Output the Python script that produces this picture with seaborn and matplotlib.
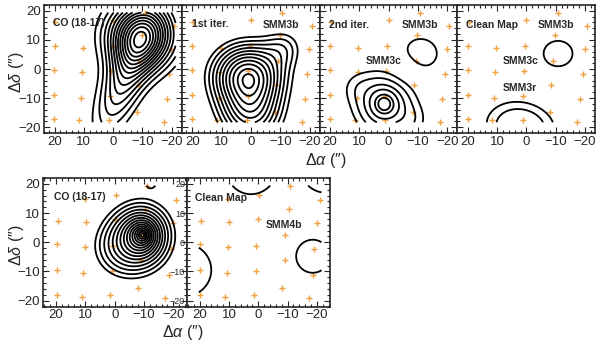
import numpy as np
import matplotlib
matplotlib.use("Agg")
import matplotlib.pyplot as plt
import seaborn as sns
from matplotlib.ticker import MultipleLocator

# spaxel centres (arcsec offsets), top row maps (SMM3) and bottom row maps (SMM4)
top_ra = [19.7, 0.0, -10.7, -20.7,
          20.0, 10.3, 0.4, -9.8, -19.9,
          20.1, 10.6, 0.9, -9.2, -19.2,
          20.1, 10.9, 1.1, -8.5, -18.3,
          20.1, 11.6, 1.3, -8.2, -17.4]
top_dec = [16.3, 16.7, 19.3, 14.8,
           7.8, 7.3, 7.8, 11.8, 6.9,
           -0.3, -1.1, -0.7, 2.8, -1.7,
           -8.9, -10.0, -9.4, -5.6, -10.4,
           -17.1, -17.6, -17.6, -14.9, -18.3]
bot_ra = [10.2, -0.4, -10.9, -21.0,
          19.5, 9.9, 0.0, -10.4, -20.0,
          19.8, 10.2, 0.6, -9.3, -19.2,
          19.8, 10.7, 0.9, -9.0, -18.6,
          19.8, 11.3, 1.5, -8.1, -17.3]
bot_dec = [14.9, 16.3, 19.3, 14.6,
           7.4, 6.8, 7.8, 11.5, 6.6,
           -0.5, -1.5, -1.3, 2.6, -2.2,
           -9.4, -10.5, -9.7, -6.1, -11.1,
           -18.1, -18.6, -18.1, -15.5, -19.2]

# emission components: (amplitude, ra, dec, width_ra, width_dec, angle, shape)
co_smm3 = [(0.8, -9.5, 11.5, 8.0, 8.0, 0, 2),
           (0.42, -4.5, -2.0, 5.0, 15.0, 22.0, 2)]
iter1_smm3 = [(1.0, 1.0, -2.3, 9.0, 8.1, 0, 2),
              (0.55, 0.0, -17.0, 8.0, 7.0, 0, 2),
              (0.25, -12.0, 8.0, 5.0, 5.0, 0, 2)]
iter2_smm3 = [(1.0, 1.5, -12.0, 4.0, 4.2, 0, 1.3),
              (0.1, 11.0, -6.0, 4.0, 4.0, 0, 2),
              (0.125, -8.0, -18.0, 4.0, 4.0, 0, 2),
              (-0.12, -5.0, -1.0, 5.0, 5.0, 0, 2),
              (0.21, -10.8, 5.3, 7.1, 6.4, 0, 2)]
clean_smm3 = [(0.36, -10.8, 5.3, 5.2, 4.6, 0, 2),
              (1.0, 2.0, -20.0, 6.8, 5.0, 11, 2)]
co_smm4 = [(1.0, -9.5, 2.5, 5.0, 5.5, 0, 1),
           (0.2, 0.0, -3.0, 9.0, 9.0, 0, 2),
           (0.21, -12.5, 21.0, 2.2, 2.2, 0, 2)]
clean_smm4 = [(1.0, 25.0, -9.5, 7.6, 7.6, 0, 2),
              (1.0, -18.6, -4.8, 4.8, 4.8, 0, 2),
              (1.0, 2.5, 24.7, 7.0, 7.0, 0, 2),
              (1.0, -23.0, 25.0, 6.8, 6.8, 0, 2)]

lev_co_smm3 = [0.12, 0.19, 0.26, 0.33, 0.40, 0.47, 0.54, 0.61, 0.68, 0.75, 0.82, 0.89, 0.96, 1.03]
lev_iter1 = [0.27, 0.35, 0.43, 0.51, 0.59, 0.67, 0.75, 0.83, 0.91, 0.99, 1.05]
lev_iter2 = [0.155, 0.253, 0.391, 0.53, 0.698, 0.816]
lev_clean3 = [0.23, 0.47]
lev_co_smm4 = [0.34, 0.39, 0.44, 0.49, 0.54, 0.59, 0.64, 0.69, 0.74, 0.79, 0.84, 0.89, 0.94, 0.99, 1.04]
lev_clean4 = [0.5]


def sky(comps, ra, dec):
    z = np.zeros_like(ra)
    for a, x0, y0, sx, sy, ang, b in comps:
        t = np.radians(ang)
        u = (ra - x0) * np.cos(t) + (dec - y0) * np.sin(t)
        v = -(ra - x0) * np.sin(t) + (dec - y0) * np.cos(t)
        r2 = (u / sx) ** 2 + (v / sy) ** 2
        z = z + a * np.exp(-0.5 * r2 ** (b / 2.0))
    return z


sns.set_style("ticks")
plt.rcParams["font.family"] = ["Liberation Sans", "DejaVu Sans"]
plt.rcParams["mathtext.fontset"] = "custom"
plt.rcParams["mathtext.rm"] = "Liberation Sans"
plt.rcParams["mathtext.it"] = "Liberation Sans:italic"

fig = plt.figure(figsize=(6, 3.46), dpi=100)
W, H = 600.0, 346.0


def panel(x0, x1, y0, y1):
    return fig.add_axes([x0 / W, 1 - y1 / H, (x1 - x0) / W, (y1 - y0) / H])


orange = "#f0a040"


def draw(ax, comps, levels, ra_pts, dec_pts, xl, grid_ra):
    g_ra, g_dec = np.meshgrid(np.linspace(grid_ra[0], grid_ra[1], 220),
                              np.linspace(-18.3, 19.4, 220))
    z = sky(comps, g_ra, g_dec)
    sns.scatterplot(x=ra_pts, y=dec_pts, marker="+", s=22, color=orange,
                    linewidth=1.0, ax=ax, zorder=2)
    ax.contour(g_ra, g_dec, z, levels=levels, colors="k", linewidths=1.3, zorder=3)
    ax.set_xlim(xl)
    ax.set_ylim(-22, 22)
    ax.set_xticks([20, 10, 0, -10, -20])
    ax.set_yticks([-20, -10, 0, 10, 20])
    ax.xaxis.set_minor_locator(MultipleLocator(2))
    ax.yaxis.set_minor_locator(MultipleLocator(2))
    ax.tick_params(which="both", direction="in", top=True, right=True,
                   labelsize=9.5, width=0.8, pad=2)
    ax.tick_params(which="major", length=4)
    ax.tick_params(which="minor", length=2)
    for s in ax.spines.values():
        s.set_linewidth(1.2)
    ax.set_xlabel("")
    ax.set_ylabel("")


def label(ax, x, y, txt):
    ax.text(x, y, txt, fontsize=7.5, fontweight="bold", ha="left", va="center", zorder=4)


top_edges = [44, 181.75, 319.5, 457.25, 595]
top_maps = [co_smm3, iter1_smm3, iter2_smm3, clean_smm3]
top_levs = [lev_co_smm3, lev_iter1, lev_iter2, lev_clean3]
axes = []
for i in range(4):
    ax = panel(top_edges[i], top_edges[i + 1], 5, 133)
    draw(ax, top_maps[i], top_levs[i], top_ra, top_dec, (23.6, -23.4), (-21.3, 20.5))
    if i > 0:
        ax.set_yticklabels([])
    axes.append(ax)

label(axes[0], 20.5, 15.7, "CO (18-17)")
label(axes[1], 20.1, 15.4, "1st iter.")
label(axes[1], -4.0, 15.0, "SMM3b")
label(axes[2], 20.5, 15.0, "2nd iter.")
label(axes[2], -4.6, 15.0, "SMM3b")
label(axes[2], 8.0, 2.9, "SMM3c")
label(axes[3], 20.5, 15.0, "Clean Map")
label(axes[3], -4.0, 15.0, "SMM3b")
label(axes[3], 8.0, 2.9, "SMM3c")
label(axes[3], 8.0, -6.6, "SMM3r")

b1 = panel(43, 186.5, 178, 306.5)
draw(b1, co_smm4, lev_co_smm4, bot_ra, bot_dec, (24.5, -24.5), (-21.3, 20.5))
b2 = panel(186.5, 330, 178, 306.5)
draw(b2, clean_smm4, lev_clean4, bot_ra, bot_dec, (24.5, -24.5), (-21.6, 20.3))
b2.tick_params(axis="y", labelsize=6.5, pad=1)
b2.set_zorder(5)
label(b1, 20.9, 15.5, "CO (18-17)")
label(b2, 21.5, 15.2, "Clean Map")
label(b2, -2.5, 5.9, "SMM4b")

fig.text(326 / W, 1 - 160 / H, r"$\Delta\alpha$ (″)", ha="center", va="center", fontsize=11.5)
fig.text(183 / W, 1 - 333 / H, r"$\Delta\alpha$ (″)", ha="center", va="center", fontsize=11.5)
fig.text(17 / W, 1 - 72 / H, r"$\Delta\delta$ (″)", ha="center", va="center", fontsize=11.5, rotation=90)
fig.text(17 / W, 1 - 245 / H, r"$\Delta\delta$ (″)", ha="center", va="center", fontsize=11.5, rotation=90)

fig.savefig("out.png", dpi=100)
